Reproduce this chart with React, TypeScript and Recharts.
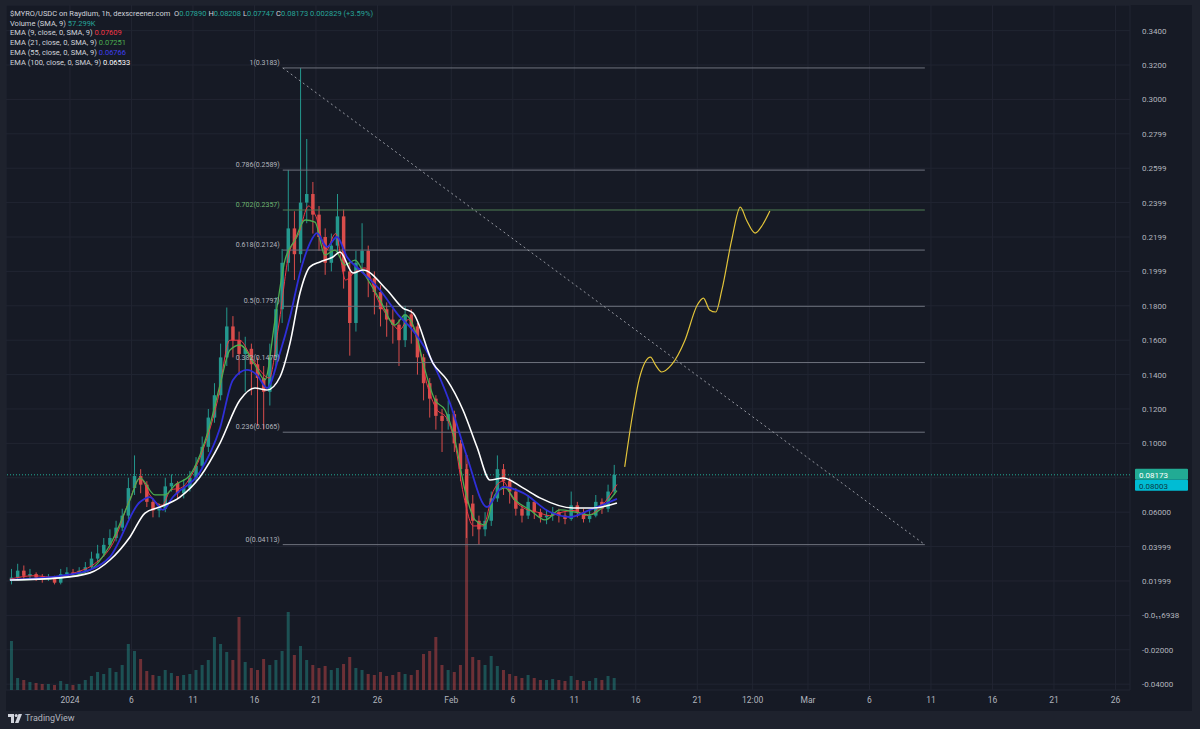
import {
  Bar,
  CartesianGrid,
  ComposedChart,
  Line,
  ReferenceLine,
  XAxis,
  YAxis,
} from 'recharts'

// $MYRO/USDC 1h chart (dexscreener) — candles aggregated to 12h, EMA 9/21/55/100,
// volume pane, fib retracement and a hand-drawn yellow projection.

// candles: 12h bars, first one centred on Dec 27 06:00 (days counted from Jan 1 2024)
const candleStartDay = -4.75
const candleStepDays = 0.5

const candleOpen = [
  0.020, 0.022, 0.026, 0.023, 0.024, 0.022, 0.021, 0.022, 0.019, 0.024,
  0.025, 0.024, 0.026, 0.028, 0.033, 0.036, 0.041, 0.045, 0.051, 0.058,
  0.074, 0.081, 0.076, 0.066, 0.061, 0.062, 0.075, 0.077, 0.071, 0.074,
  0.080, 0.087, 0.098, 0.115, 0.128, 0.150, 0.168, 0.160, 0.152, 0.155,
  0.146, 0.138, 0.130, 0.150, 0.178, 0.205, 0.225, 0.210, 0.240, 0.245,
  0.233, 0.220, 0.205, 0.215, 0.232, 0.200, 0.170, 0.205, 0.212, 0.196,
  0.188, 0.178, 0.172, 0.169, 0.160, 0.175, 0.168, 0.150, 0.135, 0.126,
  0.116, 0.113, 0.117, 0.100, 0.085, 0.065, 0.055, 0.050, 0.055, 0.068,
  0.085, 0.078, 0.072, 0.062, 0.058, 0.066, 0.060, 0.057, 0.058, 0.060,
  0.058, 0.056, 0.064, 0.060, 0.056, 0.058, 0.066, 0.062, 0.072,
]
const candleHigh = [
  0.027, 0.030, 0.029, 0.027, 0.025, 0.024, 0.024, 0.023, 0.027, 0.028,
  0.027, 0.028, 0.031, 0.037, 0.041, 0.045, 0.050, 0.055, 0.062, 0.080,
  0.093, 0.085, 0.078, 0.068, 0.065, 0.080, 0.082, 0.078, 0.079, 0.084,
  0.092, 0.104, 0.120, 0.135, 0.158, 0.179, 0.174, 0.165, 0.162, 0.158,
  0.150, 0.145, 0.158, 0.185, 0.213, 0.259, 0.235, 0.3183, 0.277, 0.252,
  0.238, 0.225, 0.222, 0.245, 0.236, 0.205, 0.212, 0.228, 0.215, 0.200,
  0.192, 0.182, 0.178, 0.172, 0.180, 0.178, 0.170, 0.152, 0.138, 0.128,
  0.120, 0.125, 0.119, 0.102, 0.088, 0.070, 0.058, 0.060, 0.072, 0.093,
  0.088, 0.080, 0.074, 0.064, 0.070, 0.067, 0.062, 0.061, 0.063, 0.062,
  0.060, 0.072, 0.066, 0.062, 0.061, 0.070, 0.068, 0.076, 0.0875,
]
const candleLow = [
  0.018, 0.021, 0.021, 0.021, 0.020, 0.019, 0.020, 0.018, 0.018, 0.023,
  0.023, 0.023, 0.025, 0.027, 0.031, 0.034, 0.039, 0.043, 0.049, 0.056,
  0.070, 0.071, 0.063, 0.057, 0.057, 0.060, 0.072, 0.068, 0.068, 0.072,
  0.078, 0.085, 0.095, 0.112, 0.125, 0.145, 0.150, 0.140, 0.130, 0.128,
  0.110, 0.108, 0.122, 0.145, 0.170, 0.200, 0.195, 0.205, 0.228, 0.222,
  0.212, 0.198, 0.200, 0.210, 0.190, 0.151, 0.165, 0.200, 0.185, 0.175,
  0.168, 0.162, 0.158, 0.145, 0.156, 0.158, 0.140, 0.125, 0.115, 0.108,
  0.095, 0.108, 0.095, 0.078, 0.045, 0.046, 0.0411, 0.046, 0.052, 0.066,
  0.070, 0.065, 0.058, 0.054, 0.056, 0.056, 0.054, 0.053, 0.055, 0.054,
  0.053, 0.055, 0.057, 0.054, 0.054, 0.057, 0.059, 0.060, 0.070,
]
const candleClose = [
  0.022, 0.026, 0.023, 0.024, 0.022, 0.021, 0.022, 0.019, 0.024, 0.025,
  0.024, 0.026, 0.028, 0.033, 0.036, 0.041, 0.045, 0.051, 0.058, 0.074,
  0.081, 0.076, 0.066, 0.061, 0.062, 0.075, 0.077, 0.071, 0.074, 0.080,
  0.087, 0.098, 0.115, 0.128, 0.150, 0.168, 0.160, 0.152, 0.155, 0.146,
  0.138, 0.130, 0.150, 0.178, 0.205, 0.225, 0.210, 0.240, 0.245, 0.233,
  0.220, 0.205, 0.215, 0.232, 0.200, 0.170, 0.205, 0.212, 0.196, 0.188,
  0.178, 0.172, 0.169, 0.160, 0.175, 0.168, 0.150, 0.135, 0.126, 0.116,
  0.113, 0.117, 0.100, 0.085, 0.065, 0.055, 0.050, 0.055, 0.068, 0.085,
  0.078, 0.072, 0.062, 0.058, 0.066, 0.060, 0.057, 0.058, 0.060, 0.058,
  0.056, 0.064, 0.060, 0.056, 0.058, 0.066, 0.062, 0.072, 0.08173,
]
// volume in K
const candleVolume = [
  245, 60, 50, 40, 35, 30, 30, 25, 45, 30,
  25, 30, 50, 70, 90, 80, 110, 90, 125, 230,
  195, 155, 95, 75, 70, 100, 85, 70, 75, 80,
  100, 125, 150, 265, 230, 190, 150, 365, 140, 110,
  100, 155, 125, 150, 195, 390, 175, 220, 150, 125,
  110, 120, 100, 110, 130, 165, 110, 100, 80, 75,
  90, 70, 75, 90, 80, 75, 100, 180, 195, 265,
  125, 100, 90, 125, 1175, 165, 150, 125, 170, 120,
  100, 80, 70, 60, 75, 60, 50, 50, 55, 50,
  45, 70, 50, 45, 45, 60, 50, 70, 60,
]

// EMA lines as [day, price]
const ema9: [number, number][] = [
  [-4.9, 0.021], [-3, 0.023], [-1, 0.022], [0.5, 0.025], [2, 0.030], [3.5, 0.042], [4.9, 0.068],
  [5.7, 0.080], [6.5, 0.070], [7.5, 0.064], [8.2, 0.073], [9, 0.074], [10, 0.083], [11, 0.100],
  [12, 0.125], [13, 0.160], [13.8, 0.160], [14.6, 0.152], [15.5, 0.142], [16.2, 0.138], [17, 0.170],
  [17.8, 0.210], [18.6, 0.222], [19.4, 0.238], [20, 0.232], [20.8, 0.212], [21.6, 0.222], [22.4, 0.195],
  [23.2, 0.200], [24, 0.202], [25, 0.184], [26, 0.172], [26.8, 0.166], [27.5, 0.172], [28.3, 0.158],
  [29, 0.135], [29.8, 0.120], [30.6, 0.115], [31.3, 0.100], [32, 0.070], [32.8, 0.052], [33.6, 0.052],
  [34.4, 0.072], [35.2, 0.078], [36, 0.068], [37, 0.062], [38, 0.060], [39, 0.058], [40, 0.060],
  [41, 0.061], [42, 0.058], [43, 0.062], [44.47, 0.0761],
]
const ema21: [number, number][] = [
  [-4.88, 0.0206], [-0.81, 0.0218], [1.63, 0.0264], [3.25, 0.0409], [4.88, 0.0671], [5.69, 0.0799],
  [6.91, 0.070], [7.72, 0.070], [8.54, 0.0758], [9.76, 0.0816], [10.57, 0.0933], [11.38, 0.1107],
  [12.2, 0.134], [13.01, 0.1543], [13.82, 0.1572], [15.04, 0.1456], [15.85, 0.1369], [16.67, 0.1717],
  [17.48, 0.2066], [18.29, 0.2183], [19.11, 0.2299], [19.92, 0.2287], [20.73, 0.2095], [21.54, 0.2124],
  [22.36, 0.2037], [23.17, 0.2066], [23.98, 0.1979], [25.2, 0.1834], [26.42, 0.1688], [27.24, 0.1747],
  [28.05, 0.1659], [28.86, 0.1427], [29.67, 0.1252], [30.49, 0.1194], [31.3, 0.102], [32.11, 0.0729],
  [32.93, 0.0555], [33.74, 0.0526], [34.55, 0.070], [35.37, 0.0741], [36.18, 0.0671], [37.4, 0.0613],
  [38.62, 0.0555], [39.84, 0.0613], [41.06, 0.0601], [42.28, 0.0584], [43.5, 0.0642], [44.47, 0.0725],
]
const ema55: [number, number][] = [
  [-4.88, 0.0206], [-0.81, 0.0229], [1.63, 0.0264], [3.25, 0.034], [5.69, 0.0659], [6.5, 0.0688],
  [7.56, 0.0613], [8.37, 0.0688], [10.57, 0.0834], [12.2, 0.109], [13.25, 0.1369], [14.39, 0.1427],
  [15.2, 0.1398], [16.02, 0.1322], [17.07, 0.1526], [17.89, 0.1735], [18.7, 0.1991], [19.51, 0.2165],
  [20.08, 0.2223], [20.89, 0.2142], [21.71, 0.220], [22.52, 0.2084], [23.58, 0.2008], [25.2, 0.1892],
  [26.83, 0.1735], [27.64, 0.1677], [29.27, 0.1502], [30.89, 0.1235], [32.28, 0.0921], [33.9, 0.063],
  [35.2, 0.0747], [36.83, 0.0712], [39.02, 0.0601], [40.65, 0.0572], [42.28, 0.0613], [44.47, 0.0677],
]
const ema100: [number, number][] = [
  [-4.88, 0.0206], [-0.81, 0.0218], [1.63, 0.0247], [3.25, 0.0322], [4.88, 0.0456], [6.1, 0.0595],
  [7.32, 0.063], [8.94, 0.0688], [10.57, 0.0805], [12.2, 0.1002], [13.82, 0.1252], [15.04, 0.1322],
  [16.02, 0.131], [17.07, 0.1386], [17.89, 0.1583], [18.7, 0.1874], [19.51, 0.2026], [20.33, 0.2055],
  [21.38, 0.2084], [21.95, 0.2113], [23.01, 0.1991], [23.82, 0.2008], [25.77, 0.1892], [27.07, 0.1787],
  [27.89, 0.1758], [29.51, 0.1467], [30.65, 0.1369], [31.95, 0.1194], [33.09, 0.0979], [34.15, 0.0787],
  [35.2, 0.0799], [36.83, 0.0741], [38.21, 0.0683], [40.89, 0.0624], [42.52, 0.0624], [44.47, 0.0653],
]

// hand-drawn projection
const projection: [number, number][] = [
  [45.1, 0.0863], [45.8, 0.1194], [46.3, 0.138], [47.2, 0.1502], [47.6, 0.1456], [48.1, 0.1415],
  [48.9, 0.1456], [50.0, 0.16], [51.0, 0.1805], [51.5, 0.1845], [52.0, 0.1776], [52.5, 0.1764],
  [53.0, 0.1892], [53.8, 0.2183], [54.5, 0.2374], [55.0, 0.2299], [55.7, 0.2223], [56.3, 0.227],
  [56.9, 0.2351],
]

// fib retracement
const fibRatios = ['1', '0.786', '0.702', '0.618', '0.5', '0.382', '0.236', '0']
const fibPrices = [0.3183, 0.2589, 0.2357, 0.2124, 0.1797, 0.147, 0.1065, 0.04113]
const fibStartDay = 17.3
const fibEndDay = 69.5

const lastPrice = 0.08173
const secondPrice = 0.08003

const timeTicks = [0, 5, 10, 15, 20, 25, 31, 36, 41, 46, 51, 55.5, 60, 65, 70, 75, 80, 85]
const timeLabels = ['2024', '6', '11', '16', '21', '26', 'Feb', '6', '11', '16', '21', '12:00', 'Mar', '6', '11', '16', '21', '26']

const priceTicks = [0.34, 0.32, 0.3, 0.28, 0.26, 0.24, 0.22, 0.2, 0.18, 0.16, 0.14, 0.12, 0.1, 0.08, 0.06, 0.04, 0.02, 0, -0.02, -0.04]
const priceLabels = ['0.3400', '0.3200', '0.3000', '0.2799', '0.2599', '0.2399', '0.2199', '0.1999', '0.1800', '0.1600', '0.1400', '0.1200', '0.1000', '', '0.06000', '0.03999', '0.01999', '-0.0₁₁6938', '-0.02000', '-0.04000']

const X_DOMAIN: [number, number] = [-5.2, 86.18]
const Y_DOMAIN: [number, number] = [-0.0434, 0.3549]
const VOL_DOMAIN: [number, number] = [0, 3425]

const UP = '#26a69a'
const DOWN = '#ef5350'
const TEAL = '#22ab94'
const AXIS_TEXT = '#b2b5be'
const FONT = 'Roboto, "Liberation Sans", sans-serif'

const candles = candleClose.map((c, i) => ({
  t: candleStartDay + i * candleStepDays,
  o: candleOpen[i],
  h: candleHigh[i],
  l: candleLow[i],
  c,
  vol: candleVolume[i],
}))

const toPts = (arr: [number, number][]) => arr.map(([t, v]) => ({ t, v }))
const fmtPrice = (p: number) => (p < 0.1 ? p.toFixed(5) : p.toFixed(4))

function Candle(props: any) {
  const { x, y, width, height, payload } = props
  if (!payload || x == null || y == null) return null
  const top = Math.min(y, y + height)
  const bottom = Math.max(y, y + height)
  const { o, h, l, c } = payload
  const k = h > l ? (bottom - top) / (h - l) : 0
  const py = (v: number) => top + (h - v) * k
  const color = c >= o ? UP : DOWN
  const cx = x + width / 2
  const bt = py(Math.max(o, c))
  const bb = py(Math.min(o, c))
  return (
    <g opacity={0.9}>
      <line x1={cx} x2={cx} y1={top} y2={bottom} stroke={color} strokeWidth={1} />
      <rect x={cx - 1.75} y={bt} width={3.5} height={Math.max(1, bb - bt)} fill={color} />
    </g>
  )
}

function VolumeBar(props: any) {
  const { x, y, width, height, payload } = props
  if (!payload) return null
  const up = payload.c >= payload.o
  return (
    <rect
      x={x + width / 2 - 1.5}
      y={Math.min(y, y + height)}
      width={3}
      height={Math.abs(height)}
      fill={up ? 'rgba(38,166,154,0.4)' : 'rgba(239,83,80,0.4)'}
    />
  )
}

function PriceTick({ x, y, payload }: any) {
  const i = priceTicks.indexOf(payload.value)
  return (
    <text x={x + 12} y={y} dy={3} fill={AXIS_TEXT} fontSize={8} fontFamily={FONT}>
      {i >= 0 ? priceLabels[i] : ''}
    </text>
  )
}

function TimeTick({ x, y, payload }: any) {
  const i = timeTicks.indexOf(payload.value)
  return (
    <text x={x} y={y} dy={13} textAnchor="middle" fill={AXIS_TEXT} fontSize={8.5} fontFamily={FONT}>
      {i >= 0 ? timeLabels[i] : ''}
    </text>
  )
}

function PriceBadges({ viewBox }: any) {
  if (!viewBox) return null
  const bx = viewBox.x + viewBox.width + 5
  const y = viewBox.y
  return (
    <g fontFamily={FONT} fontSize={8}>
      <rect x={bx} y={y - 6} width={53} height={11} fill={TEAL} rx={1} />
      <text x={bx + 4} y={y + 3} fill="#ffffff">{lastPrice.toFixed(5)}</text>
      <rect x={bx} y={y + 5} width={53} height={11} fill="#00bcd4" rx={1} />
      <text x={bx + 4} y={y + 14} fill="#0d3b44">{secondPrice.toFixed(5)}</text>
    </g>
  )
}

const fibLabel = (ratio: string, price: number, color: string) => (p: any) => {
  if (p.index !== 0) return null
  return (
    <text key={ratio} x={p.x - 3} y={p.y - 3} textAnchor="end" fill={color} fontSize={7} fontFamily={FONT}>
      {`${ratio}(${fmtPrice(price)})`}
    </text>
  )
}

function Legend() {
  const v = { color: UP }
  return (
    <div
      style={{
        position: 'absolute',
        left: 4,
        top: 4,
        fontFamily: FONT,
        fontSize: 7.5,
        lineHeight: '9.7px',
        color: '#d1d4dc',
        whiteSpace: 'pre',
        pointerEvents: 'none',
      }}
    >
      <div>
        <span>$MYRO/USDC on Raydium, 1h, dexscreener.com</span>
        <span>  O</span><span style={v}>0.07890</span>
        <span> H</span><span style={v}>0.08208</span>
        <span> L</span><span style={v}>0.07747</span>
        <span> C</span><span style={v}>0.08173</span>
        <span style={v}> 0.002829 (+3.59%)</span>
      </div>
      <div>Volume (SMA, 9) <span style={v}>57.299K</span></div>
      <div>EMA (9, close, 0, SMA, 9) <span style={{ color: '#f23645' }}>0.07609</span></div>
      <div>EMA (21, close, 0, SMA, 9) <span style={{ color: '#4caf50' }}>0.07251</span></div>
      <div>EMA (55, close, 0, SMA, 9) <span style={{ color: '#3f3ff0' }}>0.06766</span></div>
      <div>EMA (100, close, 0, SMA, 9) <span style={{ color: '#ffffff' }}>0.06533</span></div>
    </div>
  )
}

export default function App() {
  return (
    <div style={{ position: 'absolute', left: 0, top: 0, width: 1200, height: 729, background: '#1e222d', overflow: 'hidden' }}>
      <div style={{ position: 'absolute', left: 6, top: 5, width: 1186, height: 706, background: '#161a25' }}>
        <ComposedChart width={1186} height={706} data={candles} margin={{ top: 0, right: 0, bottom: 0, left: 0 }}>
          <XAxis
            type="number"
            dataKey="t"
            domain={X_DOMAIN}
            ticks={timeTicks}
            interval={0}
            allowDataOverflow
            height={21}
            tickLine={false}
            axisLine={false}
            tickSize={0}
            tickMargin={0}
            tick={<TimeTick />}
          />
          <XAxis xAxisId="v" type="number" dataKey="t" domain={X_DOMAIN} allowDataOverflow hide />
          <YAxis
            yAxisId="p"
            orientation="right"
            type="number"
            domain={Y_DOMAIN}
            ticks={priceTicks}
            interval={0}
            allowDataOverflow
            width={62}
            tickLine={false}
            axisLine={false}
            tickSize={0}
            tickMargin={0}
            tick={<PriceTick />}
          />
          <YAxis yAxisId="v" domain={VOL_DOMAIN} allowDataOverflow hide />
          <CartesianGrid yAxisId="p" stroke="#212532" />

          <Bar xAxisId="v" yAxisId="v" dataKey="vol" barSize={4} shape={<VolumeBar />} isAnimationActive={false} />

          {fibPrices.map((p, i) => {
            const green = fibRatios[i] === '0.702'
            return (
              <Line
                key={fibRatios[i]}
                yAxisId="p"
                data={[{ t: fibStartDay, v: p }, { t: fibEndDay, v: p }]}
                dataKey="v"
                stroke={green ? '#4f7f55' : '#6f737e'}
                strokeWidth={1}
                dot={false}
                label={fibLabel(fibRatios[i], p, green ? '#6fb572' : AXIS_TEXT)}
                isAnimationActive={false}
              />
            )
          })}
          <Line
            yAxisId="p"
            data={[{ t: fibStartDay, v: fibPrices[0] }, { t: fibEndDay, v: fibPrices[fibPrices.length - 1] }]}
            dataKey="v"
            stroke="#9598a1"
            strokeDasharray="2 3"
            strokeWidth={1}
            dot={false}
            isAnimationActive={false}
          />

          <ReferenceLine yAxisId="p" y={lastPrice} stroke={TEAL} strokeDasharray="1 2" label={<PriceBadges />} />

          <Bar yAxisId="p" dataKey={(d: any) => [d.l, d.h]} barSize={4} shape={<Candle />} isAnimationActive={false} />

          <Line yAxisId="p" data={toPts(ema9)} dataKey="v" type="monotone" stroke="#f23645" strokeWidth={1} dot={false} isAnimationActive={false} />
          <Line yAxisId="p" data={toPts(ema21)} dataKey="v" type="monotone" stroke="#4caf50" strokeWidth={1.3} dot={false} isAnimationActive={false} />
          <Line yAxisId="p" data={toPts(ema55)} dataKey="v" type="monotone" stroke="#2f2fd8" strokeWidth={1.8} dot={false} isAnimationActive={false} />
          <Line yAxisId="p" data={toPts(ema100)} dataKey="v" type="monotone" stroke="#ffffff" strokeWidth={1.6} dot={false} isAnimationActive={false} />

          <Line yAxisId="p" data={toPts(projection)} dataKey="v" type="monotone" stroke="#e2c43a" strokeWidth={1.2} dot={false} isAnimationActive={false} />
        </ComposedChart>
        <Legend />
      </div>
      <div style={{ position: 'absolute', left: 8, top: 713, display: 'flex', alignItems: 'center', gap: 3, fontFamily: FONT, fontSize: 9, color: '#b2b5be' }}>
        <svg width={14} height={9} viewBox="0 0 14 9">
          <rect x={0} y={0} width={6} height={3} fill="#d1d4dc" />
          <rect x={3} y={0} width={3} height={9} fill="#d1d4dc" />
          <circle cx={8.2} cy={1.6} r={1.5} fill="#d1d4dc" />
          <path d="M10.5 0 H14 L10.5 9 H7 Z" fill="#d1d4dc" />
        </svg>
        <span>TradingView</span>
      </div>
    </div>
  )
}
